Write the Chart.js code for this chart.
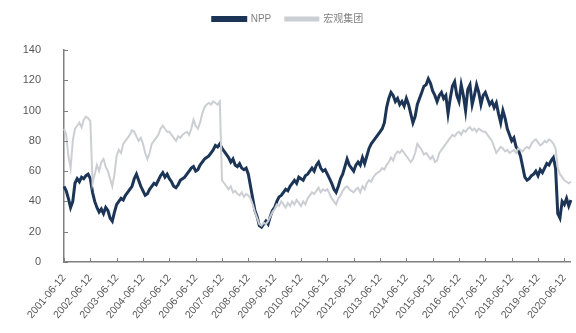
<!DOCTYPE html>
<html>
<head>
<meta charset="utf-8">
<script src="https://cdn.jsdelivr.net/npm/chart.js@4/dist/chart.umd.min.js"></script>
<style>
  html, body { margin: 0; padding: 0; background: #fff; }
  #wrap { width: 576px; height: 333px; }
</style>
</head>
<body>
<div id="wrap"><canvas id="chart"></canvas></div>
<script>
// monthly points, 2001-06 .. 2020-09 (one row = Jun..May)
const npp = [
  50, 47, 42, 36, 40, 52, 55, 53, 56, 55, 57, 58,
  55, 46, 40, 36, 33, 35, 32, 36, 34, 29, 27, 33,
  38, 40, 42, 41, 44, 46, 48, 50, 55, 58, 54, 50,
  47, 44, 45, 48, 50, 52, 51, 54, 57, 59, 56, 58,
  55, 53, 50, 49, 51, 54, 55, 56, 58, 60, 62, 63,
  60, 61, 64, 66, 68, 69, 70, 72, 74, 77, 76, 78,
  75, 73, 71, 69, 66, 68, 64, 63, 65, 62, 61, 62,
  58, 50, 42, 34, 30, 24, 23, 25, 27, 25, 30, 34,
  36, 40, 43, 44, 46, 48, 47, 50, 52, 54, 52, 56,
  55, 54, 57, 58, 60, 62, 60, 64, 66, 62, 60, 61,
  58, 55, 52, 48, 46, 50, 55, 58, 63, 68, 64, 62,
  60, 64, 66, 64, 69, 65, 70, 75, 78, 80, 82, 84,
  86, 88, 92, 102, 108, 112, 110, 106, 108, 104, 106, 103,
  108, 104, 98, 92, 96, 104, 108, 112, 116, 117, 121, 118,
  113, 110, 106, 110, 112, 108, 110, 98, 108, 116, 119, 110,
  106, 117, 110, 100, 114, 117, 104, 110, 117, 112, 104, 110,
  112, 108, 104, 106, 102, 105, 98, 92, 100, 95, 88, 84,
  80, 82, 76, 74, 70, 63, 56, 54, 55, 57, 58, 60,
  57, 61, 59, 62, 65, 64, 67, 69, 62, 32, 29, 40,
  38, 42, 37, 41
];
const macro = [
  88, 84, 70, 62, 80, 88, 90, 92, 89, 94, 96, 95,
  93, 52, 58, 64, 60, 66, 68, 63, 60, 55, 50, 58,
  70, 74, 72, 78, 80, 82, 84, 87, 86, 83, 80, 82,
  78, 72, 68, 72, 78, 80, 82, 84, 88, 90, 88, 86,
  86, 84, 82, 80, 83, 82, 84, 85, 86, 84, 88, 94,
  90, 88, 92, 98, 102, 104, 105, 104, 106, 105, 104, 106,
  54, 52, 50, 48, 50, 46, 47, 45, 44, 46, 43, 45,
  44, 42, 38, 33, 29, 25, 24, 26, 25, 27, 30, 33,
  35, 38, 37, 40, 38, 36, 39, 37, 40, 38, 41, 39,
  37, 40, 38, 42, 44, 46, 45, 47, 49, 46, 48, 47,
  48, 45, 42, 40, 38, 42, 44, 47, 49, 50, 48, 47,
  46, 48, 49, 46, 50, 48, 52, 54, 53, 56, 58, 59,
  60, 62, 61, 64, 66, 69, 67, 71, 73, 72, 74, 72,
  70, 68, 66, 68, 72, 78, 76, 74, 71, 72, 70, 68,
  70, 66, 67, 72, 74, 76, 78, 80, 82, 84, 83, 85,
  86, 84, 87, 86, 88, 89, 87, 88, 86, 88, 87, 86,
  86, 84, 82, 80, 76, 72, 74, 76, 75, 73, 74, 72,
  73, 74, 72, 75, 74, 73, 75, 76, 75, 78, 80, 81,
  79, 77, 78, 80, 79, 81, 80, 78, 75, 62, 58, 56,
  54, 53, 52, 53
];
const seriesNames = ['NPP', '宏观集团'];
const yTicks = [0, 20, 40, 60, 80, 100, 120, 140];

// date labels, the 12th of each month
const labels = [];
for (let i = 0; i < npp.length; i++) {
  const m = (5 + i) % 12 + 1;
  const y = 2001 + Math.floor((5 + i) / 12);
  labels.push(y + '-' + String(m).padStart(2, '0') + '-12');
}

// small tick marks pointing into the plot
const innerTicks = {
  id: 'innerTicks',
  afterDraw(chart) {
    const ctx = chart.ctx, xs = chart.scales.x, ys = chart.scales.y;
    ctx.save();
    ctx.strokeStyle = '#7f7f7f';
    ctx.lineWidth = 1;
    ctx.beginPath();
    xs.ticks.forEach((t, i) => {
      const px = Math.round(xs.getPixelForTick(i)) + 0.5;
      ctx.moveTo(px, ys.bottom);
      ctx.lineTo(px, ys.bottom - 4);
    });
    ys.ticks.forEach((t, i) => {
      const py = Math.round(ys.getPixelForTick(i)) + 0.5;
      ctx.moveTo(xs.left, py);
      ctx.lineTo(xs.left + 4, py);
    });
    ctx.stroke();
    ctx.restore();
  }
};

// leave some room under the legend
const legendGap = {
  id: 'legendGap',
  beforeUpdate(chart) {
    const lg = chart.legend;
    if (lg && !lg._gapped) {
      const fit = lg.fit;
      lg.fit = function() {
        fit.apply(this, arguments);
        this.height += 16;
      };
      lg._gapped = true;
    }
  }
};

const font = "'Liberation Sans', Arial, sans-serif";

new Chart(document.getElementById('chart'), {
  type: 'line',
  data: {
    labels: labels,
    datasets: [
      {
        label: seriesNames[0],
        data: npp,
        borderColor: '#1c3557',
        backgroundColor: '#1c3557',
        borderWidth: 3,
        pointRadius: 0,
        tension: 0,
        order: 1
      },
      {
        label: seriesNames[1],
        data: macro,
        borderColor: '#cbced3',
        backgroundColor: '#cbced3',
        borderWidth: 2,
        pointRadius: 0,
        tension: 0,
        order: 0
      }
    ]
  },
  options: {
    responsive: true,
    maintainAspectRatio: false,
    animation: false,
    layout: { padding: { top: 0, right: 0, left: 0, bottom: 0 } },
    plugins: {
      legend: {
        position: 'top',
        labels: {
          boxWidth: 33,
          boxHeight: 3,
          padding: 14,
          color: '#808080',
          font: { family: font + ", 'Noto Sans CJK SC'", size: 10 },
          sort: (a, b) => a.datasetIndex - b.datasetIndex
        }
      },
      tooltip: { enabled: false }
    },
    scales: {
      x: {
        grid: { display: false },
        border: { display: true, color: '#7f7f7f', width: 1.5 },
        afterBuildTicks: function(scale) {
          scale.ticks = scale.ticks.filter(t => labels[t.value].slice(5, 7) === '06');
        },
        afterFit: function(scale) { scale.height = 71; },
        ticks: {
          autoSkip: false,
          maxRotation: 50,
          minRotation: 50,
          padding: 2,
          color: '#595959',
          font: { family: font, size: 10.5 },
          callback: function(value) { return this.getLabelForValue(value); }
        }
      },
      y: {
        min: 0,
        max: 140,
        afterBuildTicks: function(scale) {
          scale.ticks = yTicks.map(v => ({ value: v }));
        },
        afterFit: function(scale) { scale.width = 64; },
        grid: { display: false },
        border: { display: true, color: '#7f7f7f', width: 1.5 },
        ticks: {
          padding: 15,
          color: '#595959',
          font: { family: font, size: 11 }
        }
      }
    }
  },
  plugins: [innerTicks, legendGap]
});
</script>
</body>
</html>
